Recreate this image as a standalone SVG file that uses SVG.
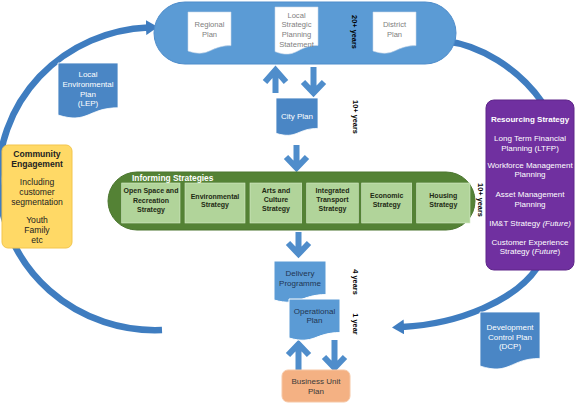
<svg xmlns="http://www.w3.org/2000/svg" width="579" height="406" viewBox="0 0 579 406">
<style>
text{font-family:"Liberation Sans",Arial,sans-serif;text-anchor:middle}
.arc{fill:none;stroke:#3f7dc0;stroke-width:6.5}
.blk{fill:none;stroke:#4f8dcb;stroke-width:6;stroke-linejoin:miter}
.wdoc{fill:#fff;stroke:#c9d9ea;stroke-width:0.6}
.wt{font-size:7.6px;fill:#808080}
.bdoc{fill:#4a86c5;stroke:#fff;stroke-width:0.8}
.bt{font-size:8px;fill:#fff}
.ldoc{fill:#5b9bd5;stroke:#fff;stroke-width:1}
.lt{font-size:8px;fill:#1f3552}
.gbox{fill:#b1d49a;stroke:#d6ebc8;stroke-width:0.6}
.gt{font-size:7px;font-weight:bold;fill:#1e2a14}
.yr{font-size:7.4px;font-weight:bold;fill:#000;text-anchor:middle}
.ce{font-size:8.6px;fill:#222}
.rs{font-size:8px;fill:#fff}
.title{font-size:8.4px;font-weight:bold;fill:#fff;text-anchor:start}
</style>
<defs>
<marker id="ah" markerUnits="userSpaceOnUse" markerWidth="12" markerHeight="15" refX="2" refY="7.5" orient="auto" viewBox="0 0 12 15">
<path d="M0,0 L12,7.5 L0,15 Z" fill="#3f7dc0"/>
</marker>
</defs>
<g id="connectors">
<path class="arc" d="M162,330 A156,151 0 0 1 148,27.5" marker-end="url(#ah)"/>
<path class="arc" d="M445,41 C480,45 518,68 542,102 C565,140 565,230 537,268 C515,300 460,324 402,327" marker-end="url(#ah)"/>
<path class="blk" d="M275.5,93 V70 M265,82 L275.5,70 L286,82"/>
<path class="blk" d="M313.5,67 V92 M303,82 L313.5,93 L324,82"/>
<path class="blk" d="M296.5,145 V167 M286,157 L296.5,168 L307,157"/>
<path class="blk" d="M298.5,232 V253 M288,243 L298.5,254 L309,243"/>
<path class="blk" d="M298.5,370 V345 M288,355 L298.5,344 L309,355"/>
<path class="blk" d="M334.5,340 V367 M324,357 L334.5,368 L345,357"/>
</g>
<g id="plans-top">
<rect x="154" y="2" width="302" height="62" rx="31" fill="#5b9bd5" stroke="#4f8dcb"/>
<text class="yr" transform="translate(352.3,32) rotate(90)">20+ years</text>
</g>
<g id="regional-plan">
<path class="wdoc" d="M188,12 H231 V45.6 C209.5,45.6 209.5,58.2 188,51 Z"/>
<text class="wt" x="209.5" y="26.7">Regional</text>
<text class="wt" x="209.5" y="36.7">Plan</text>
</g>
<g id="lsps">
<path class="wdoc" d="M275,7 H318 V45.4 C296.5,45.4 296.5,59.8 275,51.6 Z"/>
<text class="wt" x="296.5" y="17.7">Local</text>
<text class="wt" x="296.5" y="27.3">Strategic</text>
<text class="wt" x="296.5" y="36.9">Planning</text>
<text class="wt" x="296.5" y="46.5">Statement</text>
</g>
<g id="district-plan">
<path class="wdoc" d="M373,12 H416 V45.6 C394.5,45.6 394.5,58.2 373,51 Z"/>
<text class="wt" x="394.5" y="26.7">District</text>
<text class="wt" x="394.5" y="36.7">Plan</text>
</g>
<g id="lep">
<path class="bdoc" d="M58,63 H118 V107.8 C88,107.8 88,124.6 58,115 Z"/>
<text class="bt" x="88" y="77">Local</text>
<text class="bt" x="88" y="87">Environmental</text>
<text class="bt" x="88" y="96.5">Plan</text>
<text class="bt" x="88" y="106">(LEP)</text>
</g>
<g id="community">
<rect x="2" y="145" width="70" height="103" rx="6" fill="#ffd966" stroke="#f3c54c"/>
<text class="ce" x="37" y="157" font-weight="bold">Community</text>
<text class="ce" x="37" y="166.5" font-weight="bold">Engagement</text>
<text class="ce" x="37" y="185">Including</text>
<text class="ce" x="37" y="195">customer</text>
<text class="ce" x="37" y="205">segmentation</text>
<text class="ce" x="37" y="223">Youth</text>
<text class="ce" x="37" y="233">Family</text>
<text class="ce" x="37" y="242.5">etc</text>
</g>
<g id="resourcing">
<rect x="486" y="100" width="88" height="170" rx="8" fill="#7030a0" stroke="#5e2589"/>
<text class="rs" x="530" y="122" font-weight="bold" font-size="7.6">Resourcing Strategy</text>
<text class="rs" x="530" y="141">Long Term Financial</text>
<text class="rs" x="530" y="150.5">Planning (LTFP)</text>
<text class="rs" x="530" y="167.5">Workforce Management</text>
<text class="rs" x="530" y="177">Planning</text>
<text class="rs" x="530" y="197">Asset Management</text>
<text class="rs" x="530" y="206.5">Planning</text>
<text class="rs" x="530" y="226">IM&amp;T Strategy <tspan font-style="italic">(Future)</tspan></text>
<text class="rs" x="530" y="244.5">Customer Experience</text>
<text class="rs" x="530" y="254">Strategy (<tspan font-style="italic">Future</tspan>)</text>
</g>
<g id="city-plan">
<path class="bdoc" d="M276,98 H318 V128.4 C297,128.4 297,139.8 276,133.3 Z"/>
<text class="bt" x="297" y="119">City Plan</text>
<text class="yr" transform="translate(352.5,117) rotate(90)">10+ years</text>
</g>
<g id="informing">
<rect x="108" y="172" width="367" height="58" rx="29" fill="#548235" stroke="#4a752e"/>
<text class="title" x="132" y="181">Informing Strategies</text>
<text class="yr" transform="translate(478.3,200) rotate(90)">10+ years</text>
</g>
<g id="open-space">
<rect class="gbox" x="121.7" y="183" width="58.3" height="40"/>
<text class="gt" x="151" y="193.2">Open Space and</text>
<text class="gt" x="151" y="202.5">Recreation</text>
<text class="gt" x="151" y="211.8">Strategy</text>
</g>
<g id="environmental">
<rect class="gbox" x="185" y="183" width="60" height="40"/>
<text class="gt" x="215" y="198.5">Environmental</text>
<text class="gt" x="215" y="207">Strategy</text>
</g>
<g id="arts">
<rect class="gbox" x="250" y="183" width="51.7" height="40"/>
<text class="gt" x="276" y="193.2">Arts and</text>
<text class="gt" x="276" y="202.2">Culture</text>
<text class="gt" x="276" y="211.2">Strategy</text>
</g>
<g id="transport">
<rect class="gbox" x="306.7" y="183" width="51.6" height="40"/>
<text class="gt" x="332.5" y="193.2">Integrated</text>
<text class="gt" x="332.5" y="202.2">Transport</text>
<text class="gt" x="332.5" y="211.2">Strategy</text>
</g>
<g id="economic">
<rect class="gbox" x="361.7" y="183" width="50" height="40"/>
<text class="gt" x="386.7" y="197.5">Economic</text>
<text class="gt" x="386.7" y="206.5">Strategy</text>
</g>
<g id="housing">
<rect class="gbox" x="416.7" y="183" width="53.3" height="40"/>
<text class="gt" x="443.3" y="197.5">Housing</text>
<text class="gt" x="443.3" y="206.5">Strategy</text>
</g>
<g id="delivery">
<path class="ldoc" d="M274,261 H326 V294.6 C300,294.6 300,307.2 274,300 Z"/>
<text class="lt" x="300" y="276">Delivery</text>
<text class="lt" x="300" y="286">Programme</text>
<text class="yr" transform="translate(352.5,282) rotate(90)">4 years</text>
</g>
<g id="operational">
<path class="ldoc" d="M289,299 H340 V332.6 C314.5,332.6 314.5,345.2 289,338 Z"/>
<text class="lt" x="314.5" y="314">Operational</text>
<text class="lt" x="314.5" y="323">Plan</text>
<text class="yr" transform="translate(352.5,324) rotate(90)">1 year</text>
</g>
<g id="business-unit">
<rect x="282" y="370" width="68" height="32" rx="6" fill="#f4b183" stroke="#f6c7a5"/>
<text x="316" y="384" font-size="8" fill="#3a3a3a">Business Unit</text>
<text x="316" y="394" font-size="8" fill="#3a3a3a">Plan</text>
</g>
<g id="dcp">
<path class="bdoc" d="M480,312 H540 V358.4 C510,358.4 510,375.8 480,366 Z"/>
<text class="bt" x="510" y="330">Development</text>
<text class="bt" x="510" y="339.5">Control Plan</text>
<text class="bt" x="510" y="349">(DCP)</text>
</g>
</svg>
